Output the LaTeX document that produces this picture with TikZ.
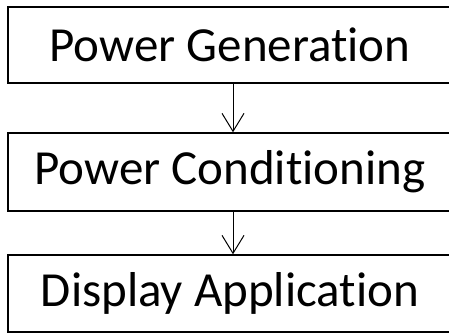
\documentclass[tikz,border=0pt]{standalone}
\usepackage{fontspec}
\setmainfont[Ligatures={NoCommon,NoDiscretionary}]{Carlito}
\usepackage{tikz}
\usetikzlibrary{arrows.meta}
\usetikzlibrary{positioning}
\tikzset{stage/.style={draw,line width=1.4pt,inner sep=0pt,minimum width=444pt,font=\fontsize{49}{58}\selectfont}}
\begin{document}
\begin{tikzpicture}[x=1pt,y=-1pt]
       \useasboundingbox (0,0) rectangle (449,333);
       \node[stage,minimum height=76pt] (gen) at (230,45) {Power Generation};
       \node[stage,minimum height=78pt] (cond) at (230,172) {Power Conditioning};
       \node[stage,minimum height=77pt] (disp) at (230,293.5) {Display Application};
       %\draw[dashed] (gen) -- (disp);
       \draw[-{Straight Barb[length=18pt,width=22pt]},line width=1pt] ([xshift=3pt]gen.south) -- ([xshift=3pt]cond.north);
       \draw[-{Straight Barb[length=18pt,width=22pt]},line width=1pt] ([xshift=3pt]cond.south) -- ([xshift=3pt]disp.north);
\end{tikzpicture}
\end{document}
